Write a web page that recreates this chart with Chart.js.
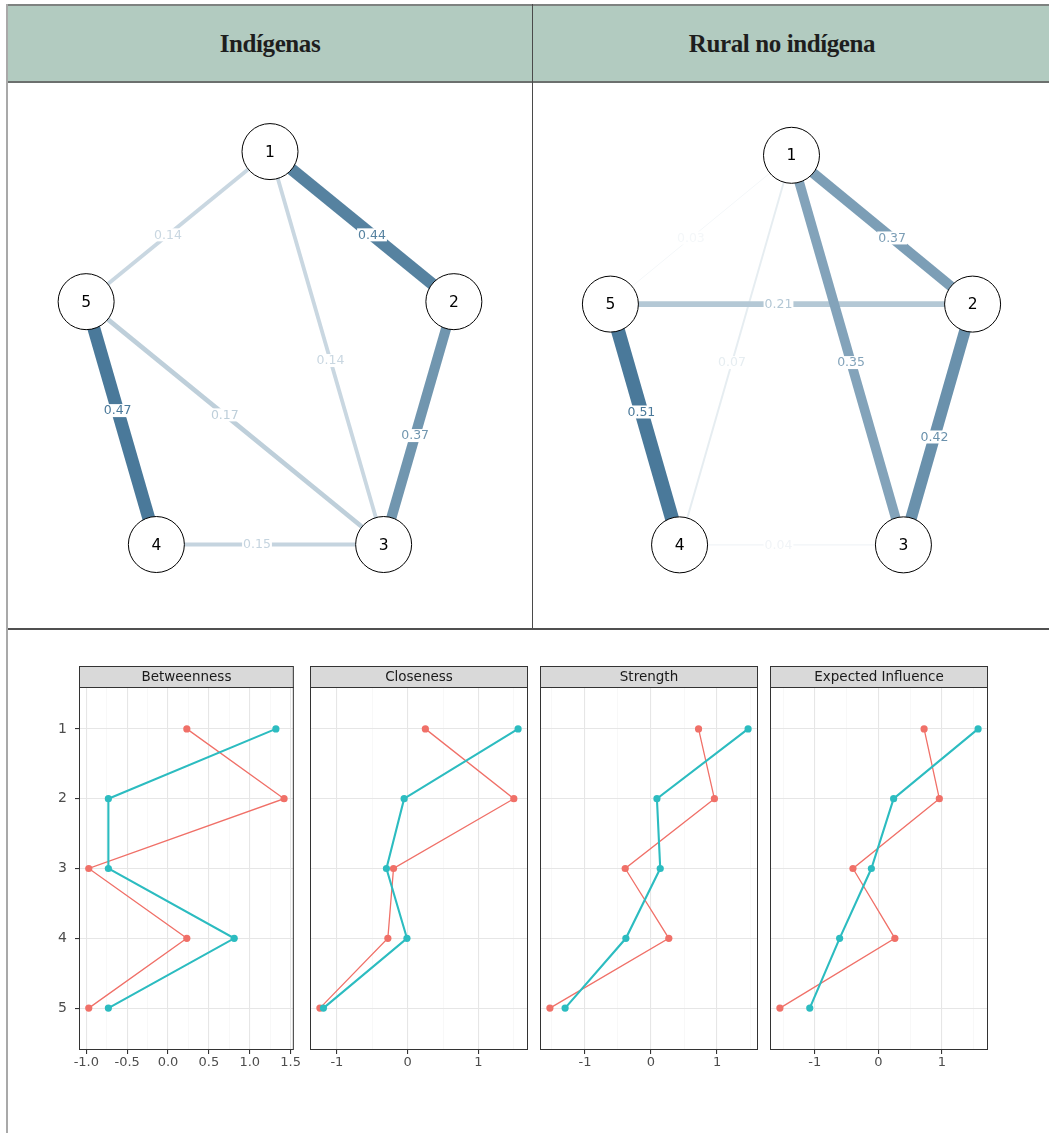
<!DOCTYPE html>
<html>
<head>
<meta charset="utf-8">
<title>Redes y centralidad</title>
<script src="https://cdn.jsdelivr.net/npm/chart.js@4.4.1/dist/chart.umd.min.js"></script>
<style>
  html, body { margin: 0; padding: 0; background: #fff; }
  body { width: 1049px; height: 1133px; position: relative; overflow: hidden;
         font-family: "Liberation Sans", Arial, sans-serif; }
  .abs { position: absolute; }
  #hdr { left: 8px; top: 4px; width: 1041px; height: 79px; box-sizing: border-box;
         background: #b2cbc0; border-top: 2px solid #7e8280; border-bottom: 2px solid #6c706e; }
  .title { position: absolute; top: 4px; height: 79px; line-height: 79px; text-align: center;
           font-family: "Liberation Serif", "DejaVu Serif", serif; font-weight: bold;
           font-size: 25px; color: #1e1e1e; letter-spacing: -0.4px; }
  #leftRule { left: 6px; top: 4px; width: 2px; height: 1129px; background: #a9a9a9; }
  #colRule { left: 532px; top: 4px; width: 1px; height: 626px; background: #4a4a4a; }
  #rowRule { left: 8px; top: 628px; width: 1041px; height: 2px; background: #505050; }
  canvas { position: absolute; }
</style>
</head>
<body>
<div id="hdr" class="abs"></div>
<div id="leftRule" class="abs"></div>
<div id="colRule" class="abs"></div>
<div id="rowRule" class="abs"></div>
<div class="title" style="left:8px;width:524px;">Indígenas</div>
<div class="title" style="left:533px;width:498px;">Rural no indígena</div>

<canvas id="netA" width="522" height="544" style="left:9px;top:84px;"></canvas>
<canvas id="netB" width="515" height="544" style="left:534px;top:84px;"></canvas>

<canvas id="c0" style="top:640px;"></canvas>
<canvas id="c1" style="top:640px;"></canvas>
<canvas id="c2" style="top:640px;"></canvas>
<canvas id="c3" style="top:640px;"></canvas>

<script>
// ---------- data ----------
const nodeLabels = ['1', '2', '3', '4', '5'];

// network edges: [from, to] (1-based node numbers) and partial-correlation weights
const edgesIndigenas   = [[1, 2], [1, 3], [1, 5], [2, 3], [3, 4], [3, 5], [4, 5]];
const weightsIndigenas = [0.44, 0.14, 0.14, 0.37, 0.15, 0.17, 0.47];

const edgesRural   = [[1, 2], [1, 3], [1, 4], [1, 5], [2, 3], [2, 5], [3, 4], [4, 5]];
const weightsRural = [0.37, 0.35, 0.07, 0.03, 0.42, 0.21, 0.04, 0.51];

// centrality indices (z-scores) per node, two groups
const seriesNames = ['Indígenas', 'Rural no indígena'];
const measureNames = ['Betweenness', 'Closeness', 'Strength', 'Expected Influence'];
const betweennessRed  = [0.23, 1.42, -0.97, 0.23, -0.97];
const betweennessTeal = [1.32, -0.73, -0.73, 0.81, -0.73];
const closenessRed    = [0.25, 1.50, -0.20, -0.28, -1.24];
const closenessTeal   = [1.56, -0.05, -0.30, -0.01, -1.19];
const strengthRed     = [0.72, 0.96, -0.39, 0.27, -1.53];
const strengthTeal    = [1.47, 0.09, 0.14, -0.38, -1.30];
const influenceRed    = [0.72, 0.96, -0.40, 0.26, -1.55];
const influenceTeal   = [1.57, 0.24, -0.11, -0.61, -1.08];
const majorSteps = [0.5, 1, 1, 1];
const labelDecimals = [1, 0, 0, 0];

const SANS = '"DejaVu Sans", "Liberation Sans", Arial, sans-serif';

// ---------- network graphs ----------
const EDGE_BASE = [74, 121, 154];
function edgeColor(f) {
  const c = EDGE_BASE.map(v => Math.round(255 - f * (255 - v)));
  return `rgb(${c[0]},${c[1]},${c[2]})`;
}
// circular layout, node 1 at the top, going clockwise
const layout = nodeLabels.map((_, i) => ({
  x: Math.sin(i * 2 * Math.PI / nodeLabels.length),
  y: Math.cos(i * 2 * Math.PI / nodeLabels.length)
}));

const netLabelPlugin = {
  id: 'netLabels',
  afterDatasetsDraw(chart) {
    const ctx = chart.ctx;
    const xs = chart.scales.x, ys = chart.scales.y;
    const info = chart.options.plugins.netLabels;
    ctx.save();
    ctx.font = '12.5px ' + SANS;
    ctx.textAlign = 'center';
    ctx.textBaseline = 'middle';
    info.edges.forEach((e, k) => {
      const a = layout[e[0] - 1], b = layout[e[1] - 1];
      const ax = xs.getPixelForValue(a.x), ay = ys.getPixelForValue(a.y);
      const bx = xs.getPixelForValue(b.x), by = ys.getPixelForValue(b.y);
      const len = Math.hypot(bx - ax, by - ay);
      const t = 0.5 + 13 / len;
      const px = ax + (bx - ax) * t, py = ay + (by - ay) * t;
      const txt = info.weights[k].toFixed(2);
      const w = ctx.measureText(txt).width;
      ctx.fillStyle = '#ffffff';
      ctx.fillRect(px - w / 2 - 1, py - 6.5, w + 2, 13);
      ctx.fillStyle = edgeColor(info.weights[k] / info.maxW);
      ctx.fillText(txt, px, py + 0.5);
    });
    // node numbers
    ctx.fillStyle = '#000';
    ctx.font = '15.5px ' + SANS;
    layout.forEach((p, i) => {
      ctx.fillText(nodeLabels[i], xs.getPixelForValue(p.x), ys.getPixelForValue(p.y) + 1);
    });
    ctx.restore();
  }
};

function networkChart(id, edges, weights, pad, yRange) {
  const maxW = Math.max(...weights);
  const edgeSets = edges.map((e, k) => ({
    type: 'line',
    data: [layout[e[0] - 1], layout[e[1] - 1]],
    borderColor: edgeColor(weights[k] / maxW),
    borderWidth: Math.max(1, 27.5 * weights[k]),
    pointRadius: 0,
    borderCapStyle: 'butt',
    order: 1 + Math.round((1 - weights[k]) * 100)
  }));
  new Chart(document.getElementById(id), {
    type: 'scatter',
    data: {
      datasets: [{
        data: layout,
        pointRadius: 28,
        pointBackgroundColor: '#ffffff',
        pointBorderColor: '#000000',
        pointBorderWidth: 1,
        order: 0
      }, ...edgeSets]
    },
    options: {
      responsive: false, animation: false, events: [],
      devicePixelRatio: 1,
      layout: { padding: pad },
      scales: {
        x: { display: false, min: -1.2, max: 1.2 },
        y: { display: false, min: yRange[0], max: yRange[1] }
      },
      plugins: {
        legend: { display: false }, tooltip: { enabled: false },
        netLabels: { edges, weights, maxW }
      }
    },
    plugins: [netLabelPlugin]
  });
}

networkChart('netA', edgesIndigenas, weightsIndigenas,
  { left: 14, right: 17, top: 35, bottom: 42 }, [-1.0, 1.15]);
networkChart('netB', edgesRural, weightsRural,
  { left: 16, right: 8, top: 39, bottom: 42 }, [-1.0, 1.15]);

// ---------- centrality panels ----------
const panelData = [
  [betweennessRed, betweennessTeal],
  [closenessRed, closenessTeal],
  [strengthRed, strengthTeal],
  [influenceRed, influenceTeal]
];
const PANEL_LEFT = [79, 309, 539, 769];
const PANEL_W = 220;
const Y_AXIS_W = 39;
const STRIP_H = 21;
const TOP_PAD = 47;
const CANVAS_H = 440;
const X_AXIS_H = 30;

const panelFramePlugin = {
  id: 'panelFrame',
  afterDraw(chart) {
    const { ctx, chartArea: a } = chart;
    const title = chart.options.plugins.panelFrame.title;
    ctx.save();
    ctx.fillStyle = '#d9d9d9';
    ctx.fillRect(a.left, a.top - STRIP_H, a.right - a.left, STRIP_H);
    ctx.strokeStyle = '#333333';
    ctx.lineWidth = 1;
    ctx.strokeRect(a.left + 0.5, a.top - STRIP_H + 0.5, a.right - a.left - 1, STRIP_H);
    ctx.strokeRect(a.left + 0.5, a.top + 0.5, a.right - a.left - 1, a.bottom - a.top - 1);
    ctx.fillStyle = '#1a1a1a';
    ctx.font = '13.5px ' + SANS;
    ctx.textAlign = 'center';
    ctx.textBaseline = 'middle';
    ctx.fillText(title, (a.left + a.right) / 2, a.top - STRIP_H / 2 + 0.5);
    ctx.restore();
  }
};

function isMultiple(v, step) {
  const r = v / step;
  return Math.abs(r - Math.round(r)) < 1e-6;
}

panelData.forEach((pair, p) => {
  const all = pair[0].concat(pair[1]);
  const lo = Math.min(...all), hi = Math.max(...all);
  const span = hi - lo;
  const xmin = lo - 0.05 * span, xmax = hi + 0.05 * span;
  const major = majorSteps[p], minor = major / 2;
  const tickVals = [];
  for (let k = Math.ceil(xmin / minor); k * minor <= xmax; k++) {
    tickVals.push(Math.round(k * minor * 1000) / 1000);
  }
  const showY = p === 0;
  const canvas = document.getElementById('c' + p);
  const padL = showY ? 0 : 3;
  const left = showY ? PANEL_LEFT[p] - Y_AXIS_W : PANEL_LEFT[p] - padL;
  const width = (showY ? Y_AXIS_W : padL) + PANEL_W + 3;
  canvas.width = width;
  canvas.height = CANVAS_H;
  canvas.style.left = left + 'px';

  const mk = (vals, color, lw) => ({
    label: '',
    data: vals.map((v, i) => ({ x: v, y: i + 1 })),
    borderColor: color,
    backgroundColor: color,
    borderWidth: lw,
    pointRadius: 3.6,
    pointBorderWidth: 0,
    showLine: true,
    tension: 0
  });
  const red = Object.assign(mk(pair[0], '#f07068', 1.3), { label: seriesNames[0], order: 2 });
  const teal = Object.assign(mk(pair[1], '#2cbcc0', 2.1), { label: seriesNames[1], order: 1 });

  new Chart(canvas, {
    type: 'scatter',
    data: { datasets: [red, teal] },
    options: {
      responsive: false, animation: false, events: [],
      devicePixelRatio: 1,
      layout: { padding: { top: TOP_PAD, left: padL, right: 3, bottom: 0 } },
      scales: {
        x: {
          type: 'linear', min: xmin, max: xmax,
          afterBuildTicks: s => { s.ticks = tickVals.map(v => ({ value: v })); },
          afterFit: s => { s.height = X_AXIS_H; },
          border: { display: false },
          grid: {
            color: c => (c.tick && isMultiple(c.tick.value, major)) ? '#e6e6e6' : '#f3f3f3',
            lineWidth: c => (c.tick && isMultiple(c.tick.value, major)) ? 1.1 : 0.6,
            tickColor: c => (c.tick && isMultiple(c.tick.value, major)) ? '#333333' : 'rgba(0,0,0,0)',
            tickLength: 4,
            drawTicks: true
          },
          ticks: {
            autoSkip: false, maxRotation: 0, minRotation: 0, padding: 1,
            color: '#4d4d4d',
            font: { size: 13, family: SANS },
            callback: v => isMultiple(v, major) ? Number(v).toFixed(labelDecimals[p]) : ''
          }
        },
        y: {
          type: 'linear', reverse: true, min: 0.4, max: nodeLabels.length + 0.6,
          afterBuildTicks: s => { s.ticks = nodeLabels.map((_, i) => ({ value: i + 1 })); },
          afterFit: s => { s.width = showY ? Y_AXIS_W : 0; },
          border: { display: false },
          grid: { color: '#e6e6e6', lineWidth: 1.1, drawTicks: showY, tickLength: 4, tickColor: '#333333' },
          ticks: {
            display: showY, padding: 8, color: '#4d4d4d',
            font: { size: 14, family: SANS },
            callback: v => nodeLabels[Math.round(v) - 1]
          }
        }
      },
      plugins: {
        legend: { display: false }, tooltip: { enabled: false },
        panelFrame: { title: measureNames[p] }
      }
    },
    plugins: [panelFramePlugin]
  });
});
</script>
</body>
</html>
